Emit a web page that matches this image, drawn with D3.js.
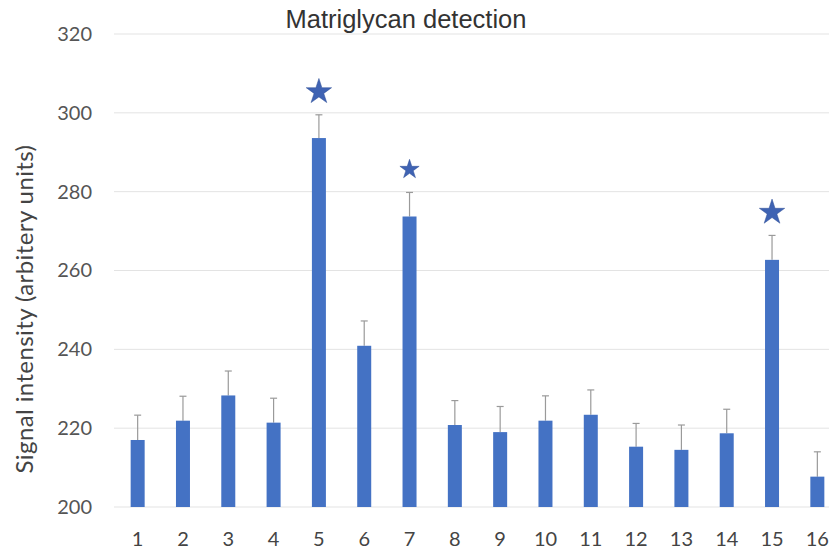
<!DOCTYPE html>
<html>
<head>
<meta charset="utf-8">
<script src="https://cdn.jsdelivr.net/npm/d3@7"></script>
<style>
  body { margin: 0; background: #fff; }
  svg { display: block; }
</style>
</head>
<body>
<svg id="chart" width="829" height="551"></svg>
<script>
// data
const categories = ["1","2","3","4","5","6","7","8","9","10","11","12","13","14","15","16"];
const values = [217.0, 221.9, 228.3, 221.4, 293.6, 240.9, 273.7, 220.8, 219.0, 221.9, 223.4, 215.3, 214.5, 218.7, 262.7, 207.7];
const errors = [6.3, 6.2, 6.2, 6.2, 5.9, 6.3, 6.1, 6.2, 6.5, 6.3, 6.3, 5.9, 6.3, 6.1, 6.2, 6.3];
const starred = ["5", "7", "15"];
const yTicks = [200, 220, 240, 260, 280, 300, 320];

const svg = d3.select("#chart");

const x = d3.scaleBand()
  .domain(categories)
  .range([115, 840])
  .paddingInner(0)
  .paddingOuter(0);

const y = d3.scaleLinear()
  .domain([200, 320])
  .range([507, 34]);

const barWidth = 14;
const cx = d => x(d) + x.bandwidth() / 2;

// gridlines
svg.append("g")
  .selectAll("line")
  .data(yTicks)
  .enter()
  .append("line")
  .attr("x1", 114)
  .attr("x2", 829)
  .attr("y1", d => y(d))
  .attr("y2", d => y(d))
  .attr("stroke", "#e3e3e3")
  .attr("stroke-width", 1);

// y axis labels
const yAxis = svg.append("g")
  .attr("transform", "translate(92,0)")
  .call(d3.axisLeft(y).tickValues(yTicks).tickSize(0).tickPadding(0));
yAxis.select(".domain").remove();
yAxis.selectAll("text")
  .attr("font-family", "Lato, 'Open Sans', sans-serif")
  .attr("font-size", "20px")
  .attr("fill", "#555");

// x axis labels
const xAxis = svg.append("g")
  .attr("transform", "translate(0,532)")
  .call(d3.axisBottom(x).tickSize(0).tickPadding(0));
xAxis.select(".domain").remove();
xAxis.selectAll("text")
  .attr("font-family", "Lato, 'Open Sans', sans-serif")
  .attr("font-size", "20px")
  .attr("fill", "#444");

// error bars (upper only)
const errG = svg.append("g")
  .selectAll("g")
  .data(categories)
  .enter()
  .append("g");

errG.append("line")
  .attr("x1", d => cx(d))
  .attr("x2", d => cx(d))
  .attr("y1", (d, i) => y(values[i]))
  .attr("y2", (d, i) => y(values[i] + errors[i]))
  .attr("stroke", "#9a9a9a")
  .attr("stroke-width", 1.2);

errG.append("line")
  .attr("x1", d => cx(d) - 3.5)
  .attr("x2", d => cx(d) + 3.5)
  .attr("y1", (d, i) => y(values[i] + errors[i]))
  .attr("y2", (d, i) => y(values[i] + errors[i]))
  .attr("stroke", "#9a9a9a")
  .attr("stroke-width", 1.2);

// bars
svg.append("g")
  .selectAll("rect")
  .data(categories)
  .enter()
  .append("rect")
  .attr("x", d => cx(d) - barWidth / 2)
  .attr("width", barWidth)
  .attr("y", (d, i) => y(values[i]))
  .attr("height", (d, i) => y(200) - y(values[i]))
  .attr("fill", "#4472c4");

// significance stars
const star = d3.symbol().type(d3.symbolStar);
svg.append("g")
  .selectAll("path")
  .data(starred)
  .enter()
  .append("path")
  .attr("d", d => star.size(d === "7" ? 115 : 200)())
  .attr("transform", d => {
    const i = categories.indexOf(d);
    return `translate(${cx(d)}, ${y(values[i] + errors[i]) - 23})`;
  })
  .attr("fill", "#3f63b3")
  .attr("stroke", "#2f4f96")
  .attr("stroke-width", 0.5);

// title
svg.append("text")
  .text("Matriglycan detection")
  .attr("x", 406)
  .attr("y", 28)
  .attr("text-anchor", "middle")
  .attr("font-family", "'Liberation Sans', Arial, sans-serif")
  .attr("font-size", "25.5px")
  .attr("fill", "#333");

// y axis title
svg.append("text")
  .text("Signal intensity (arbitery units)")
  .attr("transform", "translate(33,309) rotate(-90)")
  .attr("text-anchor", "middle")
  .attr("font-family", "Lato, 'Open Sans', sans-serif")
  .attr("font-size", "24px")
  .attr("letter-spacing", "0.4px")
  .attr("fill", "#444");
</script>
</body>
</html>
